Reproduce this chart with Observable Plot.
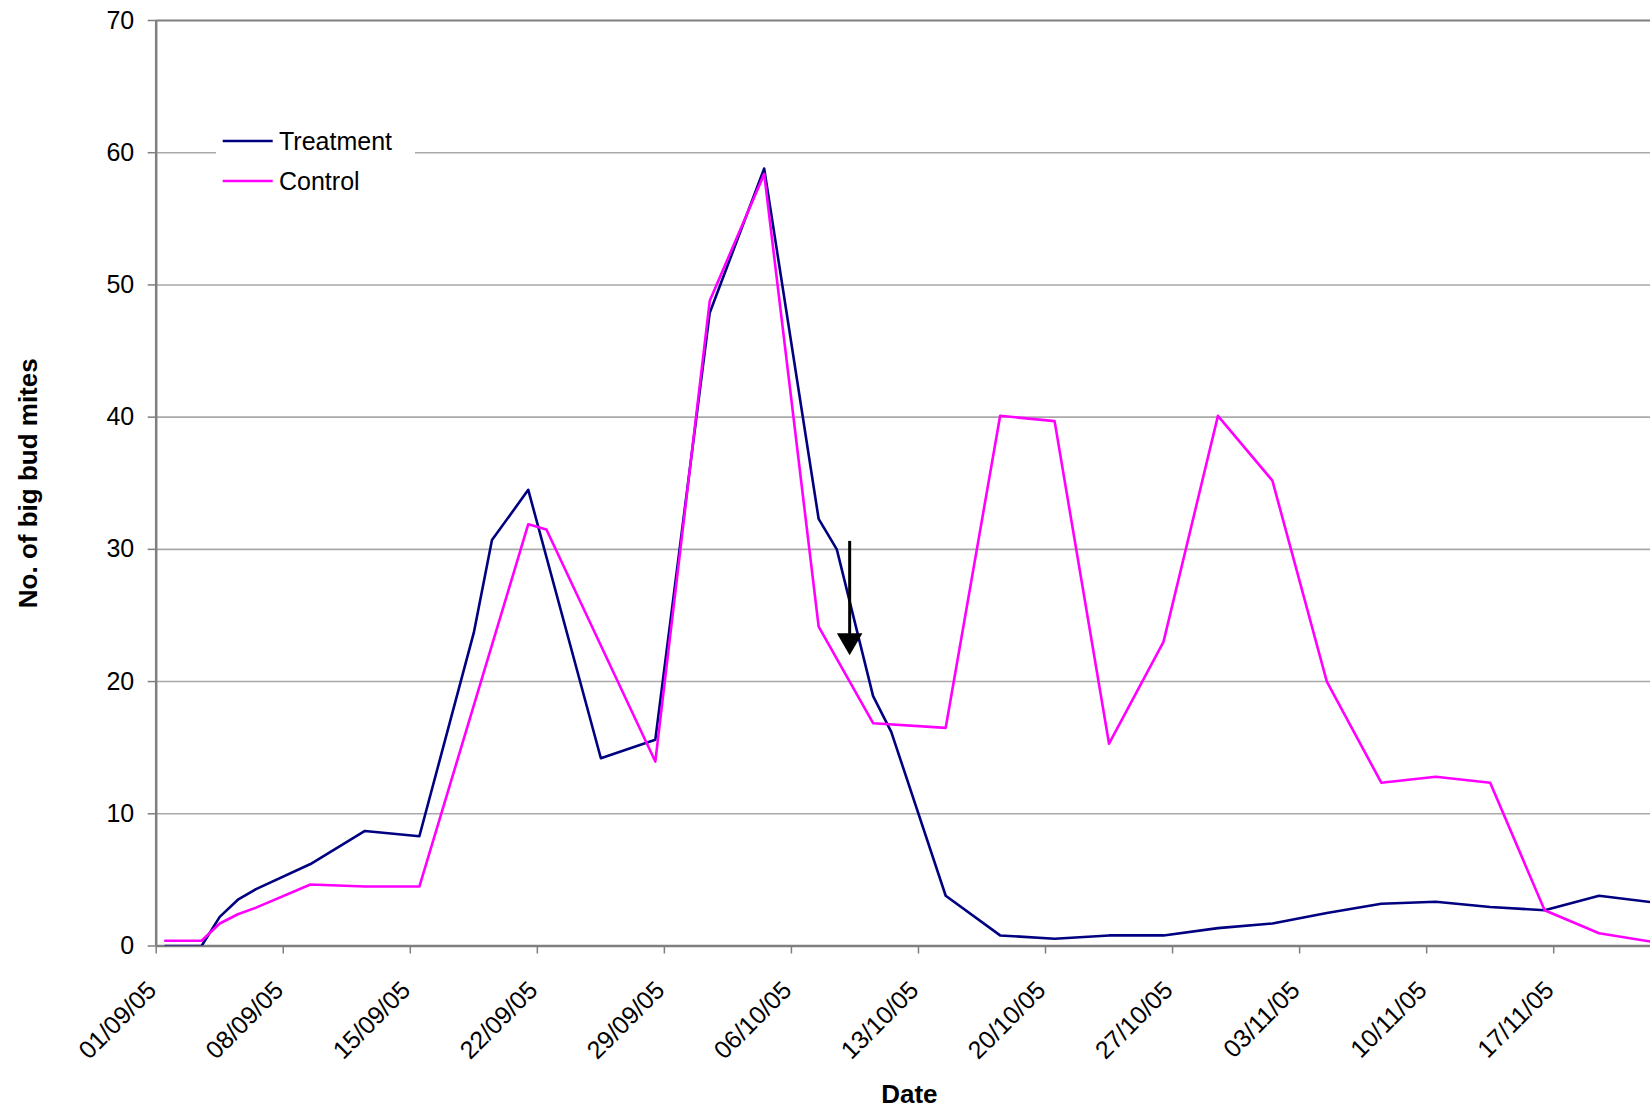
<!DOCTYPE html>
<html><head><meta charset="utf-8">
<script src="https://cdn.jsdelivr.net/npm/d3@7"></script>
<script src="https://cdn.jsdelivr.net/npm/@observablehq/plot@0.6"></script>
<style>
body{margin:0;background:#fff;font-family:"Liberation Sans",Arial,sans-serif;}
#wrap{position:relative;width:1650px;height:1108px;overflow:hidden;background:#fff;}
#legend{position:absolute;left:216px;top:118px;width:199px;height:86px;background:#fff;}
</style></head><body>
<div id="wrap"><div id="chart"></div><div id="legend"></div></div>
<script>
// ---- data ----
const treatmentDates = ["2005-09-01","2005-09-03","2005-09-04","2005-09-05","2005-09-06","2005-09-09","2005-09-12","2005-09-15","2005-09-18","2005-09-19","2005-09-21","2005-09-25","2005-09-28","2005-10-01","2005-10-04","2005-10-07","2005-10-08","2005-10-10","2005-10-11","2005-10-14","2005-10-17","2005-10-20","2005-10-23","2005-10-26","2005-10-29","2005-11-01","2005-11-04","2005-11-07","2005-11-10","2005-11-13","2005-11-16","2005-11-19","2005-11-22"];
const treatment = [0,0,2.2,3.5,4.3,6.2,8.7,8.3,23.7,30.7,34.5,14.2,15.6,47.9,58.8,32.3,30.0,18.9,16.2,3.8,0.8,0.55,0.8,0.8,1.35,1.7,2.5,3.2,3.35,2.95,2.7,3.8,3.3];
const controlDates = ["2005-09-01","2005-09-03","2005-09-04","2005-09-05","2005-09-06","2005-09-09","2005-09-12","2005-09-15","2005-09-21","2005-09-22","2005-09-28","2005-10-01","2005-10-04","2005-10-07","2005-10-10","2005-10-14","2005-10-17","2005-10-20","2005-10-23","2005-10-26","2005-10-29","2005-11-01","2005-11-04","2005-11-07","2005-11-10","2005-11-13","2005-11-16","2005-11-19","2005-11-22"];
const control = [0.4,0.4,1.7,2.4,2.9,4.65,4.5,4.5,31.9,31.5,13.95,48.8,58.4,24.15,16.85,16.5,40.1,39.7,15.3,23.0,40.1,35.2,20.0,12.35,12.8,12.35,2.7,0.96,0.3];
const xTickLabels = ["01/09/05","08/09/05","15/09/05","22/09/05","29/09/05","06/10/05","13/10/05","20/10/05","27/10/05","03/11/05","10/11/05","17/11/05"];
const yTicks = [0,10,20,30,40,50,60,70];
const seriesNames = ["Treatment","Control"];
const arrowNote = {date: "2005-10-09T05:00Z", top: 30.6, base: 23.0, head: 23.1};

// ---- build ----
const mid = s => new Date(s + "T12:00:00Z");           // Excel plots each day in the middle of its slot
const parseLabel = d3.utcParse("%d/%m/%y");
const tickDates = xTickLabels.map(parseLabel);
const tRows = treatmentDates.map((d, i) => ({date: mid(d), value: treatment[i]}));
const cRows = controlDates.map((d, i) => ({date: mid(d), value: control[i]}));
const colors = {Treatment: "#000080", Control: "#FF00FF"};
const grid = yTicks.filter(v => v > 0 && v < 70);
const axisColor = "#7f7f7f";
const font = "'Liberation Sans', Arial, sans-serif";

const chart = Plot.plot({
  width: 1650,
  height: 1108,
  marginLeft: 155.7,
  marginRight: 0,
  marginTop: 20,
  marginBottom: 162.5,
  style: {fontFamily: font, fontSize: "25px", background: "#fff", color: "#000"},
  x: {type: "utc", domain: [new Date("2005-09-01T00:00Z"), new Date("2005-11-22T08:00Z")]},
  y: {domain: [0, 70]},
  marks: [
    Plot.ruleY(grid, {stroke: "#a9a9a9", strokeWidth: 1.6}),
    Plot.ruleY([70], {stroke: axisColor, strokeWidth: 2}),
    Plot.axisY({ticks: yTicks, tickSize: 8, tickPadding: 14, tickFormat: d => String(d), stroke: axisColor, strokeWidth: 1.5, label: null, fontSize: 25}),
    Plot.axisX({ticks: tickDates, tickSize: 8, tickFormat: () => "", stroke: axisColor, strokeWidth: 1.5, label: null}),
    Plot.text(tickDates, {x: d => d, text: (d, i) => xTickLabels[i], frameAnchor: "bottom", dx: -4, dy: 40, rotate: -45, textAnchor: "end", lineAnchor: "middle", fontSize: 25, fill: "#000"}),
    Plot.ruleY([0], {stroke: axisColor, strokeWidth: 2.5}),
    Plot.ruleX([new Date("2005-09-01T00:00Z")], {stroke: axisColor, strokeWidth: 2.5}),
    Plot.lineY(tRows, {x: "date", y: "value", stroke: colors.Treatment, strokeWidth: 2.6, clip: true}),
    Plot.lineY(cRows, {x: "date", y: "value", stroke: colors.Control, strokeWidth: 2.6, clip: true}),
    Plot.ruleX([arrowNote], {x: d => new Date(d.date), y1: "top", y2: "base", stroke: "#000", strokeWidth: 3}),
    Plot.dot([arrowNote], {x: d => new Date(d.date), y: "head", symbol: "triangle", r: 9.5, rotate: 180, fill: "#000", stroke: "none"}),
    Plot.text(["No. of big bud mites"], {frameAnchor: "left", dx: -128, rotate: -90, textAnchor: "middle", lineAnchor: "middle", fontWeight: "bold", fontSize: 26, fill: "#000"}),
    Plot.text(["Date"], {frameAnchor: "bottom", dx: 6, dy: 149, textAnchor: "middle", lineAnchor: "middle", fontWeight: "bold", fontSize: 26, fill: "#000"})
  ]
});
document.getElementById("chart").appendChild(chart);

// legend
const lg = d3.select("#legend").append("svg").attr("width", 199).attr("height", 86)
  .style("font-family", font);
seriesNames.forEach((name, i) => {
  const y = 23 + i * 40;
  lg.append("line").attr("x1", 6.7).attr("x2", 56.7).attr("y1", y).attr("y2", y)
    .attr("stroke", colors[name]).attr("stroke-width", 2.5);
  lg.append("text").attr("x", 63).attr("y", y).attr("dy", "0.35em")
    .attr("font-size", 25).attr("fill", "#000").text(name);
});
</script>
</body></html>
